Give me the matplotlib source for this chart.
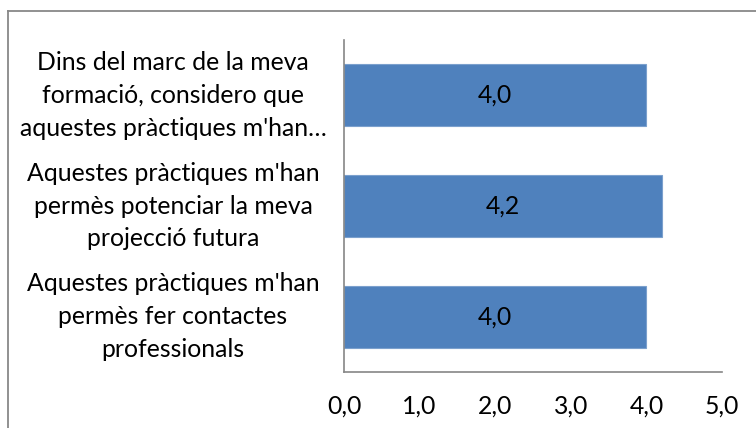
import matplotlib
matplotlib.use("Agg")
import matplotlib.pyplot as plt
from matplotlib.lines import Line2D
import matplotlib.transforms as mtrans

plt.rcParams['font.family'] = ['Lato', 'DejaVu Sans']

categories = [
    "Aquestes pràctiques m'han\npermès fer contactes\nprofessionals",
    "Aquestes pràctiques m'han\npermès potenciar la meva\nprojecció futura",
    "Dins del marc de la meva\nformació, considero que\naquestes pràctiques m'han…",
]
values = [4.0, 4.2, 4.0]
xticks = [0, 1, 2, 3, 4, 5]
xticklabels = ["0,0", "1,0", "2,0", "3,0", "4,0", "5,0"]

FS = 17.8
W, H = 756, 428
fig = plt.figure(figsize=(W / 100, H / 100), dpi=100)
ax = fig.add_axes([344 / W, 1 - 372 / H, (722 - 344) / W, (372 - 40) / H])

ypos = list(range(len(categories)))
ax.barh(ypos, values, height=0.56, color="#4F81BD", edgecolor="#7BA0CD", linewidth=0.8)
for y, v in zip(ypos, values):
    ax.text(v / 2, y, f"{v:.1f}".replace(".", ","), ha="center", va="center", fontsize=FS, color="#000000")

ax.set_xlim(0, 5)
ax.set_ylim(-0.5, len(categories) - 0.5)
ax.set_xticks(xticks)
ax.set_xticklabels(xticklabels, fontsize=FS)
ax.set_yticks(ypos)
ax.set_yticklabels([])
ax.tick_params(length=0, pad=16)
for s in ["top", "right"]:
    ax.spines[s].set_visible(False)
for s in ["left", "bottom"]:
    ax.spines[s].set_color("#868686")
    ax.spines[s].set_linewidth(1.2)

trans = mtrans.blended_transform_factory(fig.transFigure, ax.transData)
for y, lab in zip(ypos, categories):
    ax.text(173 / W, y, lab, transform=trans, ha="center", va="center", fontsize=FS,
            multialignment="center", linespacing=1.52, color="#000000")

# outer chart border (partially cut)
fig.add_artist(Line2D([8 / W, 8 / W], [0, 1 - 11 / H], transform=fig.transFigure, color="#888888", lw=1.3))
fig.add_artist(Line2D([8 / W, 1], [1 - 11 / H, 1 - 11 / H], transform=fig.transFigure, color="#888888", lw=1.3))

fig.savefig("out.png", dpi=100)
